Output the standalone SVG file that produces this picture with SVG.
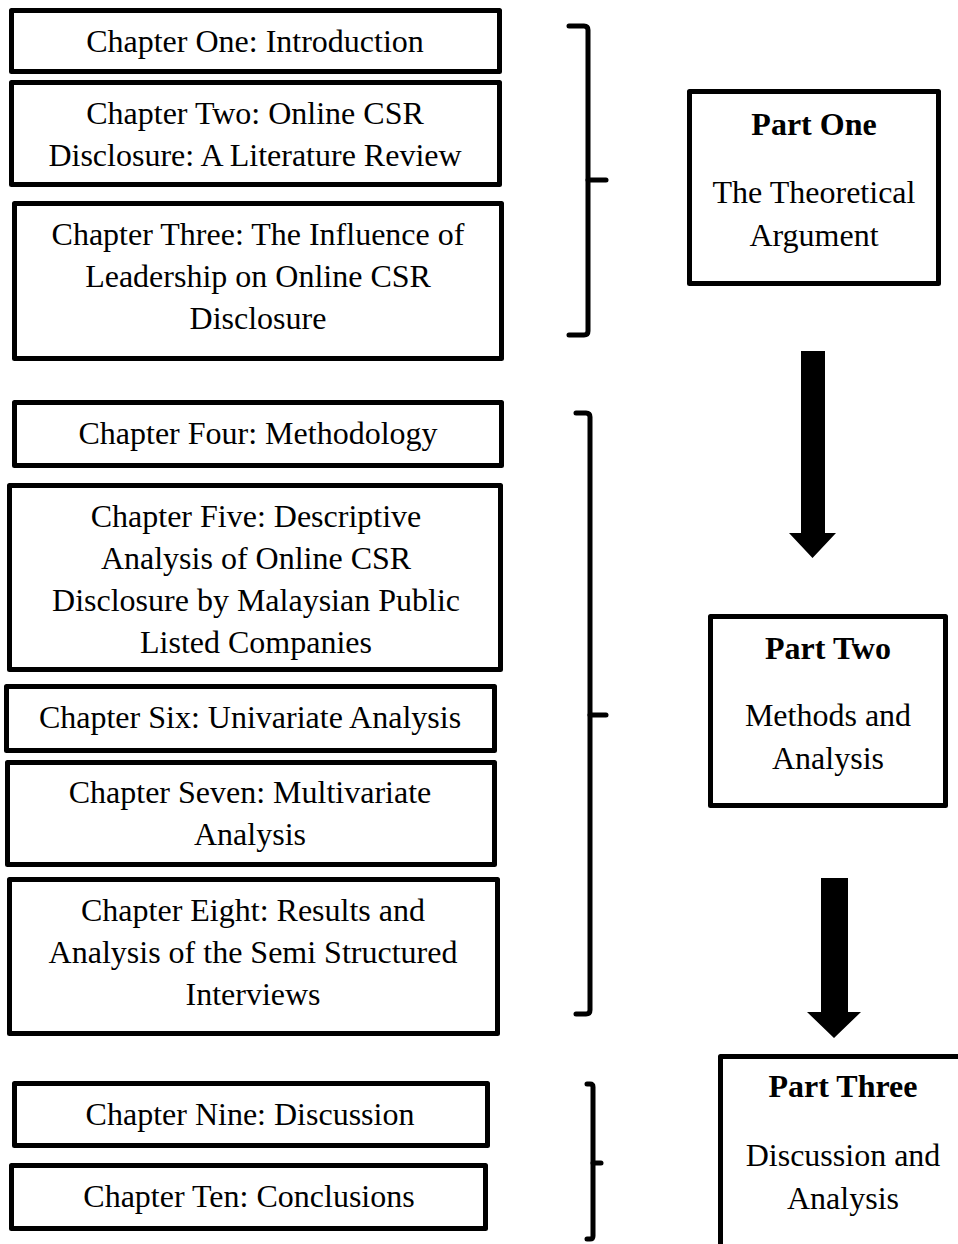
<svg xmlns="http://www.w3.org/2000/svg" width="958" height="1244" viewBox="0 0 958 1244">
  <style>
    .box { fill: #ffffff; stroke: #000000; stroke-width: 5; stroke-linejoin: round; }
    .txt { font-family: "Liberation Serif", "Times New Roman", serif; font-size: 32px; fill: #000000; text-anchor: middle; }
    .bold { font-weight: bold; }
    .brace { fill: none; stroke: #000000; stroke-width: 5; stroke-linejoin: round; stroke-linecap: round; }
    .arrow { fill: #000000; stroke: none; }
  </style>
  <rect width="958" height="1244" fill="#ffffff"/>

  <!-- chapter boxes -->
  <g id="ch1">
    <rect class="box" x="11.5" y="10.5" width="488" height="61"/>
    <text class="txt" x="255" y="52">Chapter One: Introduction</text>
  </g>
  <g id="ch2">
    <rect class="box" x="11.5" y="82.5" width="488" height="102"/>
    <text class="txt" x="255" y="124">Chapter Two: Online CSR</text>
    <text class="txt" x="255" y="166">Disclosure: A Literature Review</text>
  </g>
  <g id="ch3">
    <rect class="box" x="14.5" y="203.5" width="487" height="155"/>
    <text class="txt" x="258" y="245">Chapter Three: The Influence of</text>
    <text class="txt" x="258" y="287">Leadership on Online CSR</text>
    <text class="txt" x="258" y="329">Disclosure</text>
  </g>
  <g id="ch4">
    <rect class="box" x="14.5" y="402.5" width="487" height="63"/>
    <text class="txt" x="258" y="444">Chapter Four: Methodology</text>
  </g>
  <g id="ch5">
    <rect class="box" x="9.5" y="485.5" width="491" height="184"/>
    <text class="txt" x="256" y="527">Chapter Five: Descriptive</text>
    <text class="txt" x="256" y="569">Analysis of Online CSR</text>
    <text class="txt" x="256" y="611">Disclosure by Malaysian Public</text>
    <text class="txt" x="256" y="653">Listed Companies</text>
  </g>
  <g id="ch6">
    <rect class="box" x="6.5" y="686.5" width="488" height="64"/>
    <text class="txt" x="250" y="728">Chapter Six: Univariate Analysis</text>
  </g>
  <g id="ch7">
    <rect class="box" x="7.5" y="762.5" width="487" height="102"/>
    <text class="txt" x="250" y="803">Chapter Seven: Multivariate</text>
    <text class="txt" x="250" y="845">Analysis</text>
  </g>
  <g id="ch8">
    <rect class="box" x="9.5" y="879.5" width="488" height="154"/>
    <text class="txt" x="253" y="921">Chapter Eight: Results and</text>
    <text class="txt" x="253" y="963">Analysis of the Semi Structured</text>
    <text class="txt" x="253" y="1005">Interviews</text>
  </g>
  <g id="ch9">
    <rect class="box" x="14.5" y="1083.5" width="473" height="62"/>
    <text class="txt" x="250" y="1125">Chapter Nine: Discussion</text>
  </g>
  <g id="ch10">
    <rect class="box" x="11.5" y="1165.5" width="474" height="63"/>
    <text class="txt" x="249" y="1207">Chapter Ten: Conclusions</text>
  </g>

  <!-- part boxes -->
  <g id="part1">
    <rect class="box" x="689.5" y="91.5" width="249" height="192"/>
    <text class="txt bold" x="814" y="135">Part One</text>
    <text class="txt" x="814" y="203">The Theoretical</text>
    <text class="txt" x="814" y="246">Argument</text>
  </g>
  <g id="part2">
    <rect class="box" x="710.5" y="616.5" width="235" height="189"/>
    <text class="txt bold" x="828" y="659">Part Two</text>
    <text class="txt" x="828" y="726">Methods and</text>
    <text class="txt" x="828" y="769">Analysis</text>
  </g>
  <g id="part3">
    <rect class="box" x="720.5" y="1056.5" width="250" height="250"/>
    <text class="txt bold" x="843" y="1097">Part Three</text>
    <text class="txt" x="843" y="1166">Discussion and</text>
    <text class="txt" x="843" y="1209">Analysis</text>
  </g>

  <!-- brackets and arrows -->
  <g id="connectors">
    <path class="brace" d="M569,26 H584 Q588,26 588,30 V331 Q588,335 584,335 H569"/>
    <path class="brace" d="M588,180 H606"/>
    <path class="brace" d="M576,413 H586 Q590,413 590,417 V1010 Q590,1014 586,1014 H576"/>
    <path class="brace" d="M590,715 H606"/>
    <path class="brace" d="M587,1084 H590 Q593,1084 593,1087 V1236 Q593,1239 590,1239 H587"/>
    <path class="brace" d="M593,1163 H601"/>
    <polygon class="arrow" points="801,351 825,351 825,533 836,533 812.5,558 789,533 801,533"/>
    <polygon class="arrow" points="821,878 848,878 848,1012 861,1012 834,1038 807,1012 821,1012"/>
  </g>
</svg>
